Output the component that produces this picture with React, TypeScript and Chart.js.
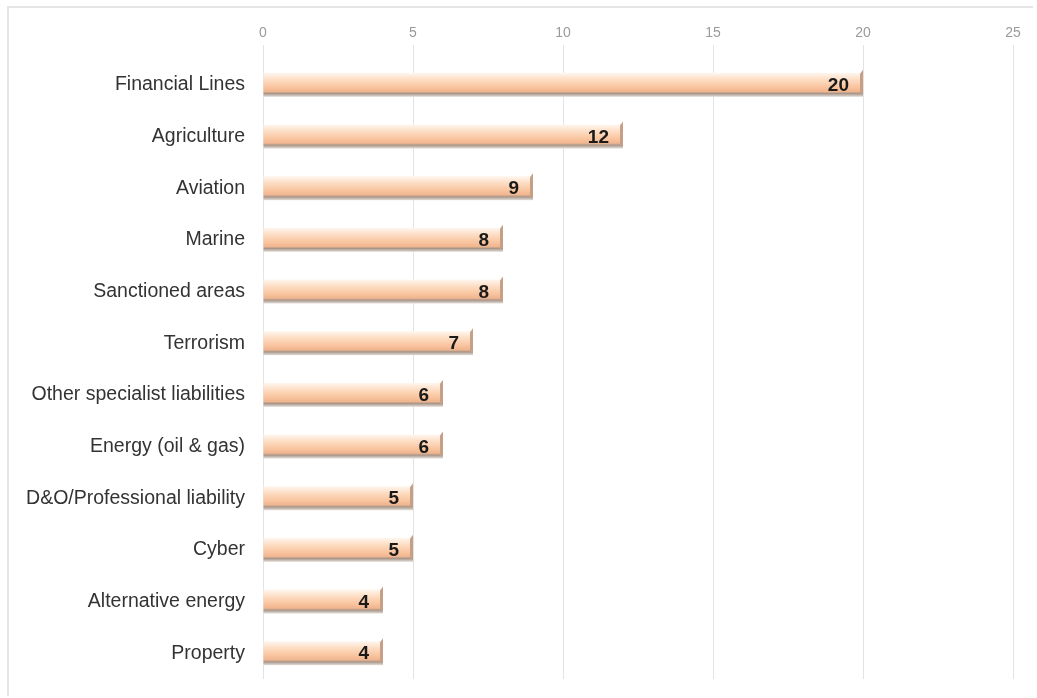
import React, { useEffect, useRef } from "react";
import { Chart, registerables } from "chart.js";

Chart.register(...registerables);

const categories = [
  "Financial Lines",
  "Agriculture",
  "Aviation",
  "Marine",
  "Sanctioned areas",
  "Terrorism",
  "Other specialist liabilities",
  "Energy (oil & gas)",
  "D&O/Professional liability",
  "Cyber",
  "Alternative energy",
  "Property",
];
const values = [20, 12, 9, 8, 8, 7, 6, 6, 5, 5, 4, 4];
const xTicks = [0, 5, 10, 15, 20, 25];

const barStyle = {
  id: "barStyle",
  afterDatasetsDraw(chart: any) {
    const ctx = chart.ctx;
    const meta = chart.getDatasetMeta(0);
    ctx.save();
    meta.data.forEach((el: any, i: number) => {
      const top = el.y - el.height / 2;
      const bottom = el.y + el.height / 2;
      const left = Math.min(el.base, el.x);
      const right = Math.max(el.base, el.x);
      const g = ctx.createLinearGradient(0, top, 0, bottom);
      g.addColorStop(0, "#fff7f0");
      g.addColorStop(0.25, "#fde0c8");
      g.addColorStop(0.6, "#f9c49e");
      g.addColorStop(0.78, "#efb58f");
      g.addColorStop(0.86, "#a8968a");
      g.addColorStop(1, "#e2ddd8");
      ctx.fillStyle = g;
      ctx.fillRect(left, top, right - left, bottom - top);
      // 3D end cap
      ctx.fillStyle = "#c59f86";
      ctx.beginPath();
      ctx.moveTo(right - 3, top + 1);
      ctx.lineTo(right, top - 3);
      ctx.lineTo(right, bottom - 4);
      ctx.lineTo(right - 3, bottom - 2);
      ctx.closePath();
      ctx.fill();
      ctx.font = "bold 19px 'Liberation Sans', Arial, sans-serif";
      ctx.fillStyle = "#1a1a1a";
      ctx.textAlign = "right";
      ctx.textBaseline = "middle";
      ctx.fillText(String(values[i]), right - 14, el.y + 1);
    });
    ctx.restore();
  },
};

export default function App() {
  const ref = useRef<HTMLCanvasElement>(null);
  useEffect(() => {
    if (!ref.current) return;
    const chart = new Chart(ref.current, {
      type: "bar",
      data: {
        labels: categories,
        datasets: [
          {
            data: values,
            backgroundColor: "rgba(0,0,0,0)",
            borderWidth: 0,
            barThickness: 24,
          },
        ],
      },
      options: {
        indexAxis: "y",
        animation: false,
        responsive: false,
        layout: { padding: { left: 0, right: 20, top: 0, bottom: 17 } },
        plugins: { legend: { display: false }, tooltip: { enabled: false } },
        scales: {
          x: {
            position: "top",
            min: 0,
            max: 25,
            afterBuildTicks: (s: any) => {
              s.ticks = xTicks.map((v) => ({ value: v }));
            },
            afterFit: (s: any) => {
              s.height = 51;
            },
            grid: { color: "#e3e3e3", tickLength: 14, drawTicks: true },
            border: { display: false },
            ticks: {
              color: "#9a9a9a",
              padding: 3,
              font: { family: "'Liberation Sans', Arial, sans-serif", size: 14 },
            },
          },
          y: {
            afterFit: (s: any) => {
              s.width = 254;
              s.paddingTop = 0;
              s.paddingBottom = 0;
            },
            grid: { display: false },
            border: { display: false },
            ticks: {
              color: "#333333",
              padding: 10,
              font: { family: "'Liberation Sans', Arial, sans-serif", size: 19.5 },
            },
          },
        },
      },
      plugins: [barStyle],
    });
    return () => chart.destroy();
  }, []);
  return (
    <div
      style={{
        position: "absolute",
        left: 7,
        top: 6,
        width: 1026,
        height: 690,
        borderTop: "2px solid #e6e6e6",
        borderLeft: "2px solid #e6e6e6",
        boxSizing: "border-box",
        background: "#fff",
      }}
    >
      <canvas ref={ref} width={1024} height={688} style={{ display: "block" }} />
    </div>
  );
}
